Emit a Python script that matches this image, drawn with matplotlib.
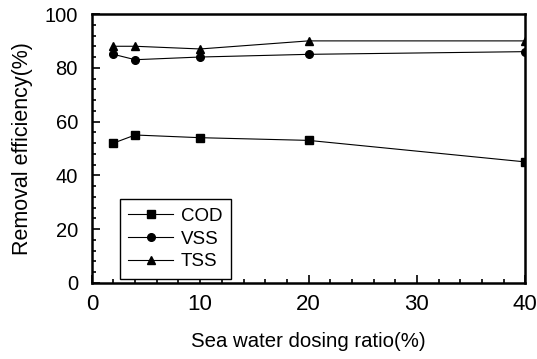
import matplotlib
matplotlib.use("Agg")
import matplotlib.pyplot as plt
from matplotlib.ticker import MultipleLocator

plt.rcParams['font.family'] = ['Liberation Sans', 'DejaVu Sans']

# sea water dosing ratio (%)
dose = [2, 4, 10, 20, 40]
# removal efficiency (%)
cod = [52, 55, 54, 53, 45]
vss = [85, 83, 84, 85, 86]
tss = [88, 88, 87, 90, 90]

fig = plt.figure(figsize=(5.37, 3.59), dpi=100)
ax = fig.add_axes([0.171, 0.212, 0.807, 0.749])

ax.plot(dose, cod, color='black', lw=0.8, marker='s', ms=5.5, label='COD')
ax.plot(dose, vss, color='black', lw=0.8, marker='o', ms=5.5, label='VSS')
ax.plot(dose, tss, color='black', lw=0.8, marker='^', ms=6, label='TSS')

ax.set_xlim(0, 40)
ax.set_ylim(0, 100)
ax.xaxis.set_major_locator(MultipleLocator(10))
ax.xaxis.set_minor_locator(MultipleLocator(2))
ax.yaxis.set_major_locator(MultipleLocator(20))
ax.yaxis.set_minor_locator(MultipleLocator(4))
ax.tick_params(which='both', direction='in', width=1.2)
ax.tick_params(which='major', length=6)
ax.tick_params(which='minor', length=3)
ax.tick_params(axis='x', which='major', labelsize=16, pad=8)
ax.tick_params(axis='y', which='major', labelsize=14.5, pad=10)
for s in ax.spines.values():
    s.set_linewidth(1.8)

ax.set_xlabel('Sea water dosing ratio(%)', fontsize=14.7, labelpad=12)
ax.set_ylabel('Removal efficiency(%)', fontsize=15.5, labelpad=8)

leg = ax.legend(loc='lower left', bbox_to_anchor=(0.065, 0.015), fontsize=13.5,
                fancybox=False, edgecolor='black', framealpha=1,
                handlelength=2.4, handletextpad=0.4, labelspacing=0.3,
                borderpad=0.45, borderaxespad=0)
leg.get_frame().set_linewidth(1.0)

fig.savefig('out.png', dpi=100)
